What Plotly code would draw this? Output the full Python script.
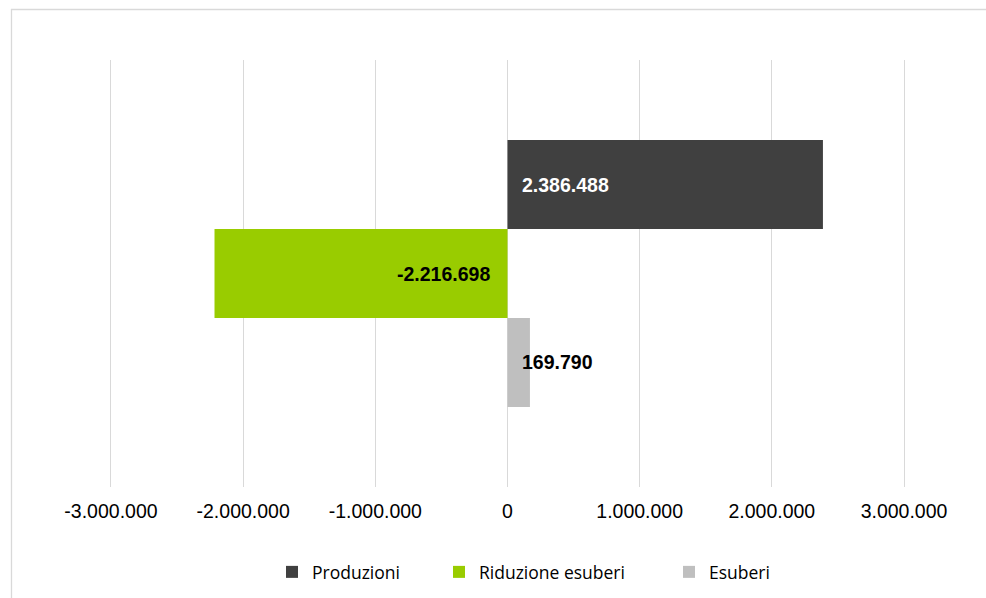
import plotly.graph_objects as go

# ---- data ----
series_names = ["Produzioni", "Riduzione esuberi", "Esuberi"]
series_values = [2386488, -2216698, 169790]
series_colors = ["#404040", "#99cc00", "#bfbfbf"]
label_colors = ["#ffffff", "#000000", "#000000"]
tick_values = [-3000000, -2000000, -1000000, 0, 1000000, 2000000, 3000000]
x_range = [-3015000, 3015000]

W, H = 986, 598
ML, MR, MT, MB = 109, 80, 60, 111
PW = W - ML - MR
PH = H - MT - MB


def fmt_it(v):
    s = f"{abs(v):,}".replace(",", ".")
    return ("-" if v < 0 else "") + s


def px_to_paper_x(px):
    return (px - ML) / PW


def px_to_paper_y(py):
    return (H - MB - py) / PH


fig = go.Figure()
legend_ids = ["legend", "legend2", "legend3"]
for i, (name, val, col) in enumerate(zip(series_names, series_values, series_colors)):
    fig.add_trace(go.Bar(
        x=[val], y=[name], orientation="h", name=name,
        marker=dict(color=col, line=dict(width=0)),
        width=1, legend=legend_ids[i], hoverinfo="x+name",
    ))

annotations = []
for name, val, lc in zip(series_names, series_values, label_colors):
    annotations.append(dict(
        x=0, y=name, xref="x", yref="y", text=fmt_it(val), showarrow=False,
        xanchor="left" if val >= 0 else "right",
        xshift=12 if val >= 0 else -16,
        font=dict(family="Liberation Sans, Arial", size=19.5, color=lc, weight="bold"),
    ))

legend_text_px = [312, 479, 709]
legend_common = dict(orientation="h", yanchor="middle", xanchor="left",
                     xref="container", yref="container",
                     y=1 - 572 / H, bgcolor="rgba(0,0,0,0)",
                     font=dict(family="Open Sans", size=17.5, color="#000000"),
                     itemwidth=30)
legends = {}
for lid, tx in zip(legend_ids, legend_text_px):
    d = dict(legend_common)
    d["x"] = (tx - 40) / W
    legends[lid] = d

shapes = [
    dict(type="line", xref="paper", yref="paper",
         x0=px_to_paper_x(11), x1=px_to_paper_x(990),
         y0=px_to_paper_y(9.5), y1=px_to_paper_y(9.5),
         line=dict(color="#d9d9d9", width=1.3)),
    dict(type="line", xref="paper", yref="paper",
         x0=px_to_paper_x(11.5), x1=px_to_paper_x(11.5),
         y0=px_to_paper_y(9), y1=px_to_paper_y(600),
         line=dict(color="#d9d9d9", width=1.3)),
]

fig.update_layout(
    width=W, height=H,
    margin=dict(l=ML, r=MR, t=MT, b=MB, pad=0, autoexpand=False),
    paper_bgcolor="#ffffff", plot_bgcolor="#ffffff",
    barmode="overlay", showlegend=True,
    annotations=annotations, shapes=shapes,
    **legends,
)
fig.update_xaxes(
    range=x_range, tickvals=tick_values,
    ticktext=[fmt_it(v) for v in tick_values],
    showgrid=True, gridcolor="#d9d9d9", gridwidth=1.3,
    zeroline=False, showline=False, ticks="",
    tickfont=dict(family="Liberation Sans, Arial", size=19.5, color="#000000"),
    ticklabelstandoff=10, fixedrange=True, automargin=False,
)
fig.update_yaxes(
    type="category", categoryorder="array", categoryarray=series_names,
    range=[3.4, -1.4], showticklabels=False, showgrid=False,
    zeroline=False, showline=False, ticks="", fixedrange=True, automargin=False,
)

fig.write_html("out.html", config={"displayModeBar": False})
